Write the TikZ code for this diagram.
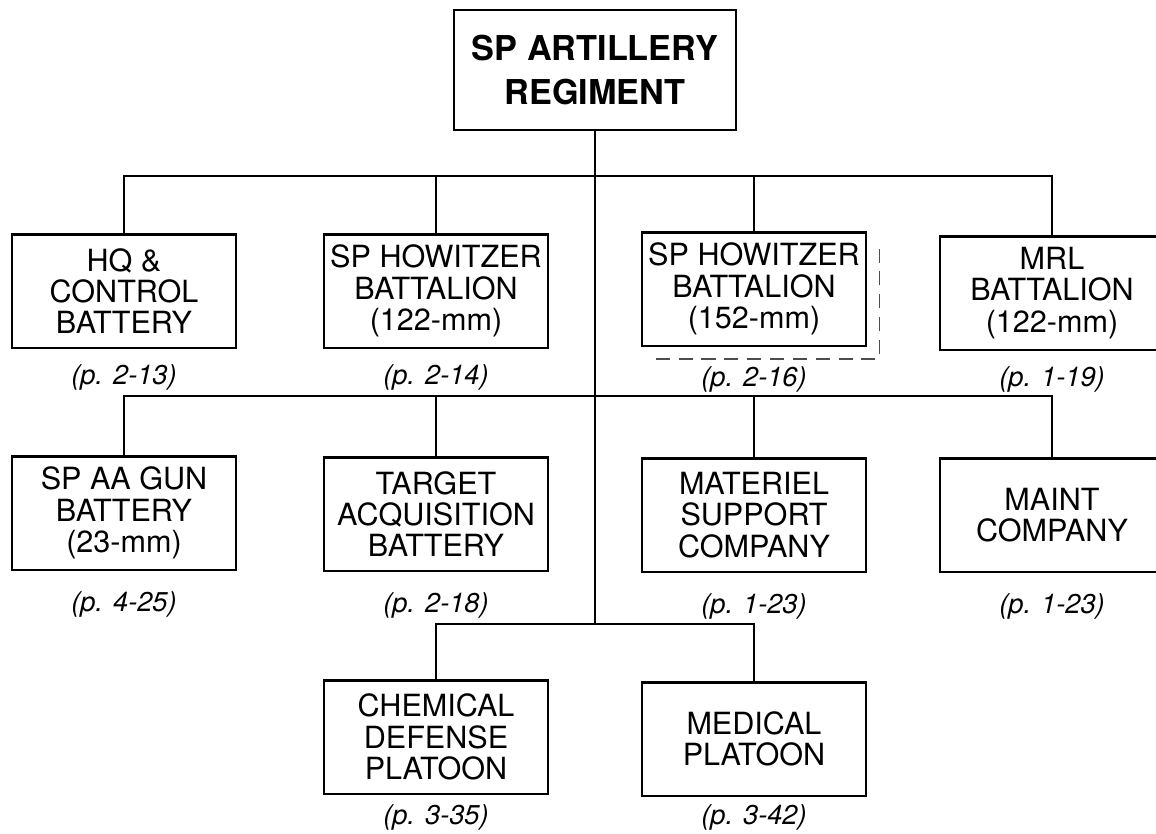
\documentclass[tikz,border=0pt]{standalone}
\usepackage{fontspec}
\setmainfont{TeX Gyre Heros}
\usepackage{tikz}
\usetikzlibrary{positioning, calc}

\begin{document}
\begin{tikzpicture}[
    x=0.02cm, y=-0.02cm,
    node distance=0.3cm,
    unit/.style={rectangle, draw, line width=1.4pt, minimum width=4.48cm, minimum height=2.27cm, inner sep=0pt, align=center, font=\fontsize{17.4}{17.8}\selectfont},
    topunit/.style={unit, minimum width=5.64cm, minimum height=2.4cm, font=\fontsize{19.5}{25}\selectfont\bfseries},
    link/.style={line width=1.1pt},
    pageref/.style={inner sep=0pt, font=\fontsize{15.5}{17}\selectfont\itshape},
    frame/.style={line width=0.6pt, black!70, dash pattern=on 8pt off 5pt}
]
\useasboundingbox (0,0) rectangle (1156,833);

% regiment
\node[topunit] (regiment) at (595,70) {SP ARTILLERY\\REGIMENT};

% first row
\node[unit] (hqbty) at (124,291) {HQ \&\\CONTROL\\BATTERY};
\node[unit] (how122) at (436,291) {SP HOWITZER\\BATTALION\\(122-mm)};
\node[unit] (how152) at (754,289) {SP HOWITZER\\BATTALION\\(152-mm)};
\node[unit] (mrlbn) at (1052,293) {MRL\\BATTALION\\(122-mm)};

% second row
\node[unit] (aabty) at (124,513) {SP AA GUN\\BATTERY\\(23-mm)};
\node[unit] (tabty) at (436,514) {TARGET\\ACQUISITION\\BATTERY};
\node[unit] (matsup) at (754,515) {MATERIEL\\SUPPORT\\COMPANY};
\node[unit] (maintco) at (1052,515) {MAINT\\COMPANY};

% third row
\node[unit] (chempl) at (436,737) {CHEMICAL\\DEFENSE\\PLATOON};
\node[unit] (medpl) at (754,739) {MEDICAL\\PLATOON};

% page references
\node[pageref, below=of hqbty] (hqref) {(p. 2-13)};
\node[pageref, below=of how122] (how122ref) {(p. 2-14)};
\node[pageref, below=0.38cm of how152] (how152ref) {(p. 2-16)};
\node[pageref, below=of mrlbn] (mrlref) {(p. 1-19)};
\node[pageref, below=0.4cm of aabty] (aaref) {(p. 4-25)};
\node[pageref, below=0.4cm of tabty] (taref) {(p. 2-18)};
\node[pageref, below=0.4cm of matsup] (matref) {(p. 1-23)};
\node[pageref, below=0.4cm of maintco] (maintref) {(p. 1-23)};
\node[pageref, below=0.18cm of chempl] (chemref) {(p. 3-35)};
\node[pageref, below=0.14cm of medpl] (medref) {(p. 3-42)};

% buses
\coordinate (bus1) at (595,176);
\coordinate (bus2) at (595,396);
\coordinate (bus3) at (595,624);

\draw[link] (regiment.south) -- (bus3);
\draw[link] (hqbty.north) |- (bus1) -| (mrlbn.north);
\draw[link] (how122.north) -- (how122.north |- bus1);
\draw[link] (how152.north) -- (how152.north |- bus1);
\draw[link] (aabty.north) |- (bus2) -| (maintco.north);
\draw[link] (tabty.north) -- (tabty.north |- bus2);
\draw[link] (matsup.north) -- (matsup.north |- bus2);
\draw[link] (chempl.north) |- (bus3) -| (medpl.north);

% dashed outline
\draw[frame] ($(how152.south west)+(15,12)$) -| ($(how152.north east)+(12,18)$);

\end{tikzpicture}
\end{document}
